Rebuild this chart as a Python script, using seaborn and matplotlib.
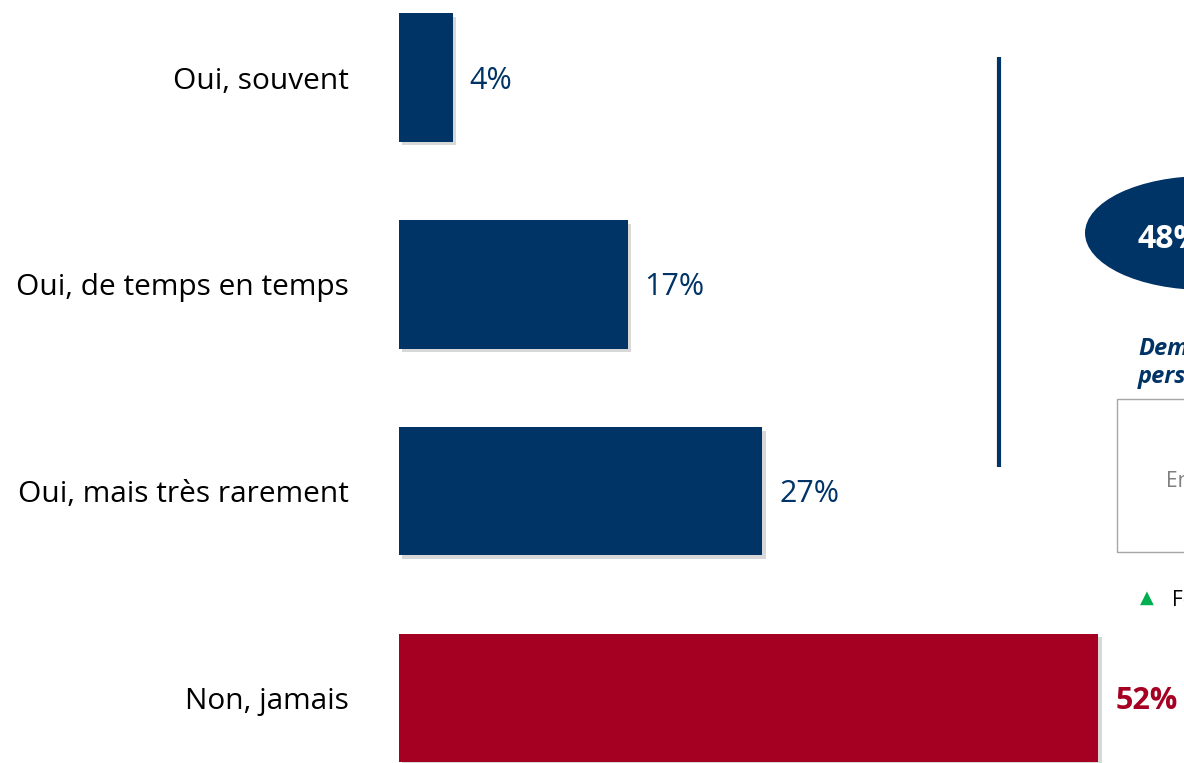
import matplotlib
matplotlib.use("Agg")
import matplotlib.pyplot as plt
import matplotlib.patheffects as pe
from matplotlib.patches import Ellipse, Rectangle
from matplotlib.lines import Line2D
import seaborn as sns
import pandas as pd

categories = ["Oui, souvent", "Oui, de temps en temps", "Oui, mais très rarement", "Non, jamais"]
values = [4, 17, 27, 52]
value_labels = ["4%", "17%", "27%", "52%"]
bar_colors = ["#003366", "#003366", "#003366", "#A50021"]
side_total = "48%"
side_title = ["Dema", "perso"]
box_lines = ["En", "I"]
note_text = "Fe"

BLUE = "#003366"
RED = "#A50021"

sns.set_theme(style="white")
plt.rcParams["font.family"] = ["Open Sans", "DejaVu Sans"]

W, H = 1184, 763
fig = plt.figure(figsize=(W / 100, H / 100), dpi=100)
x0 = 399
ax = fig.add_axes([x0 / W, 0, (W - x0) / W, 1])

df = pd.DataFrame({"cat": categories, "val": values})
sns.barplot(data=df, x="val", y="cat", hue="cat", palette=bar_colors,
            legend=False, orient="h", width=0.62, ax=ax, saturation=1)

px_per = 13.45
ax.set_xlim(0, (W - x0) / px_per)
ax.set_ylim(3.314, -0.375)
for p in ax.patches:
    p.set_path_effects([pe.SimplePatchShadow(offset=(2.5, -2.5), shadow_rgbFace="#808080", alpha=0.3),
                        pe.Normal()])
    p.set_linewidth(0)

for s in ax.spines.values():
    s.set_visible(False)
ax.set_xticks([])
ax.set_xlabel("")
ax.set_ylabel("")
ax.tick_params(axis="y", length=0, pad=36, labelsize=21.5, labelcolor="black")

for i, (v, lab) in enumerate(zip(values, value_labels)):
    last = i == len(values) - 1
    ax.text(v + 17 / px_per, i + 0.015, lab, va="center", ha="left",
            fontsize=22, color=RED if last else BLUE,
            fontweight="bold" if last else "normal")

def fx(x):
    return x / W

def fy(y):
    return 1 - y / H

fig.add_artist(Line2D([fx(999), fx(999)], [fy(57), fy(467)], color=BLUE, lw=3, solid_capstyle="butt"))
fig.add_artist(Ellipse((fx(1205), fy(233)), width=240 / W, height=114 / H, color=BLUE, lw=0))
fig.text(fx(1137), fy(239), side_total, color="white", fontsize=23, fontweight="bold",
         va="center", ha="left")
fig.text(fx(1138), fy(349), side_title[0], color=BLUE, fontsize=17, fontweight="bold",
         fontstyle="italic", va="center", ha="left")
fig.text(fx(1138), fy(377), side_title[1], color=BLUE, fontsize=17, fontweight="bold",
         fontstyle="italic", va="center", ha="left")
fig.add_artist(Rectangle((fx(1117), fy(552)), 200 / W, 153 / H, fill=False,
                         edgecolor="#A6A6A6", lw=1))
fig.text(fx(1166), fy(481), box_lines[0], color="#7F7F7F", fontsize=15, va="center", ha="left")
fig.text(fx(1182), fy(527), box_lines[1], color="#7F7F7F", fontsize=15, va="center", ha="left")
fig.text(fx(1147), fy(598), "▲", color="#00B050", fontsize=13, va="center", ha="center",
         family=["DejaVu Sans"])
fig.text(fx(1172), fy(601), note_text, color="black", fontsize=15, va="center", ha="left")

fig.savefig("out.png", dpi=100)
